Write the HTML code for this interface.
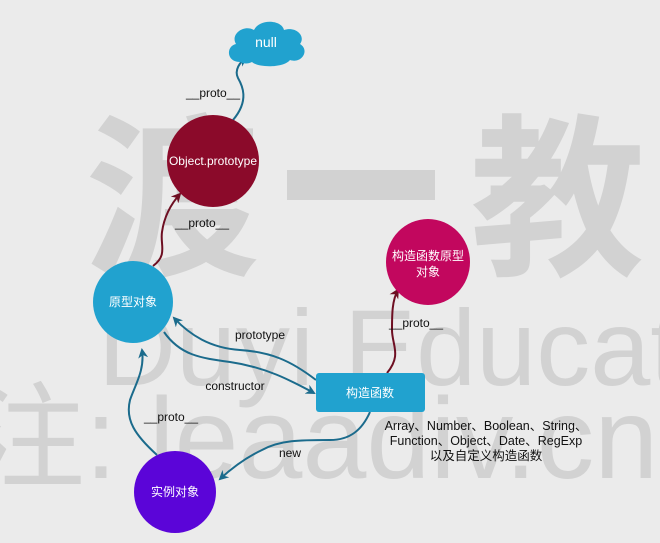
<!DOCTYPE html>
<html><head><meta charset="utf-8"><style>
html,body{margin:0;padding:0;background:#ebebeb;}
svg{display:block;}
</style></head><body>
<svg width="660" height="543" viewBox="0 0 660 543" xmlns="http://www.w3.org/2000/svg" font-family="'Liberation Sans','Noto Sans CJK SC',sans-serif">
<defs>
<marker id="ab" markerWidth="10" markerHeight="10" refX="8" refY="5" orient="auto" markerUnits="userSpaceOnUse"><path d="M0,0 L10,5 L0,10 L3,5 Z" fill="#1b6b8c"/></marker>
<marker id="ar" markerWidth="10" markerHeight="10" refX="8" refY="5" orient="auto" markerUnits="userSpaceOnUse"><path d="M0,0 L10,5 L0,10 L3,5 Z" fill="#6e0f22"/></marker>
</defs>
<rect width="660" height="543" fill="#ebebeb"/>
<g fill="#d2d2d2" font-weight="bold">
<text x="85" y="262" font-size="175" font-family="'Noto Sans CJK SC',sans-serif">渡</text>
<rect x="287" y="170" width="148" height="30"/>
<text x="470" y="262" font-size="175" font-family="'Noto Sans CJK SC',sans-serif">教</text>
<text x="98" y="385" font-size="108" font-weight="normal">Duyi Educat</text>
<text x="-30" y="478" font-size="115" font-weight="normal" font-family="'Liberation Sans','Noto Sans CJK SC',sans-serif">注: leaadiv.cn</text>
</g>
<g fill="none" stroke-width="2">
<path d="M233,120 C250,100 242,85 238,78 C234,70 240,62 246,58" stroke="#1b6b8c" marker-end="url(#ab)"/>
<path d="M153,266 C168,255 160,245 162,232 C164,218 170,205 180,194" stroke="#6e0f22" marker-end="url(#ar)"/>
<path d="M316,380 C290,360 270,352 240,350 C210,348 190,335 174,318" stroke="#1b6b8c" marker-end="url(#ab)"/>
<path d="M164,332 C180,355 200,358 230,362 C265,367 290,380 314,393" stroke="#1b6b8c" marker-end="url(#ab)"/>
<path d="M157,455 C135,435 125,420 130,400 C135,385 145,370 142,350" stroke="#1b6b8c" marker-end="url(#ab)"/>
<path d="M370,412 C362,430 350,440 330,440 C300,440 280,440 262,450 C245,458 232,468 220,479" stroke="#1b6b8c" marker-end="url(#ab)"/>
<path d="M387,373 C402,355 392,345 392,330 C392,315 392,300 398,290" stroke="#6e0f22" marker-end="url(#ar)"/>
</g>
<g>
<path d="M240,62 C226,62 226,46 236,44 C230,34 244,24 254,30 C260,18 282,20 284,30 C296,26 306,36 300,44 C310,50 302,64 290,60 C284,68 258,68 252,62 C248,64 244,64 240,62 Z" fill="#21a2cf"/>
<ellipse cx="213" cy="161" rx="46" ry="46" fill="#8b0a2a"/>
<ellipse cx="428" cy="262" rx="42" ry="43" fill="#c2075e"/>
<ellipse cx="133" cy="302" rx="40" ry="41" fill="#21a2cf"/>
<ellipse cx="175" cy="492" rx="41" ry="41" fill="#5b05d8"/>
<rect x="316" y="373" width="109" height="39" rx="3" fill="#21a2cf"/>
</g>
<g fill="#fff" font-size="12" text-anchor="middle">
<text x="266" y="47" font-size="14">null</text>
<text x="213" y="165">Object.prototype</text>
<text x="428" y="260">构造函数原型</text>
<text x="428" y="276">对象</text>
<text x="133" y="306">原型对象</text>
<text x="175" y="496">实例对象</text>
<text x="370" y="397">构造函数</text>
</g>
<g fill="#111" font-size="12" text-anchor="middle">
<text x="213" y="97">__proto__</text>
<text x="202" y="227">__proto__</text>
<text x="260" y="339">prototype</text>
<text x="235" y="390">constructor</text>
<text x="171" y="421">__proto__</text>
<text x="290" y="457">new</text>
<text x="416" y="327">__proto__</text>
<text x="486" y="430" font-size="12.5">Array、Number、Boolean、String、</text>
<text x="486" y="445" font-size="12.5">Function、Object、Date、RegExp</text>
<text x="486" y="460" font-size="12.5">以及自定义构造函数</text>
</g>
</svg>
</body></html>
